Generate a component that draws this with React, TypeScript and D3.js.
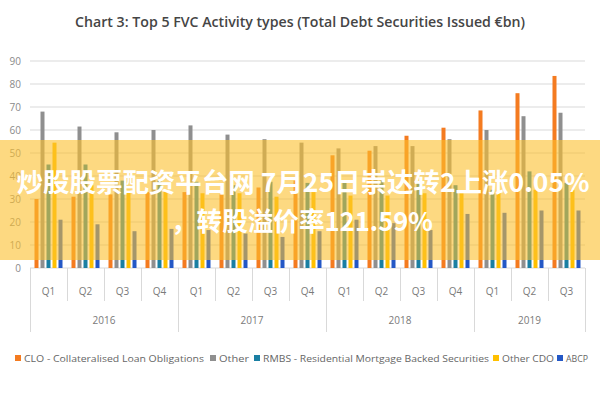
import React from 'react';
import * as d3 from 'd3';

const quarters = ['Q1','Q2','Q3','Q4','Q1','Q2','Q3','Q4','Q1','Q2','Q3','Q4','Q1','Q2','Q3'];
const years = ['2016','2017','2018','2019'];
const yearQuarterCounts = [4, 4, 4, 3];
const seriesNames = [
  'CLO - Collateralised Loan Obligations',
  'Other',
  'RMBS - Residential Mortgage Backed Securities',
  'Other CDO',
  'ABCP',
];
const clo = [30, 31, 32, 33, 33, 32, 35, 38, 49, 51, 57.5, 61, 68.5, 76, 83.5];
const other = [68, 61.5, 59, 60, 62, 58, 56, 54.5, 52, 53, 53, 56, 60, 66, 67.5];
const rmbs = [45, 45, 38, 38, 37.5, 36, 37.5, 37, 38, 38, 37.5, 36, 34, 42, 37];
const otherCdo = [54.5, 36, 34, 34, 32.5, 32.5, 31, 33, 31.5, 31.5, 32.5, 33, 33, 34, 34];
const abcp = [21, 19, 16, 17, 16.5, 15, 13.5, 16, 21, 19.5, 16.5, 23.5, 24, 25, 25];
const yTicks = [0, 10, 20, 30, 40, 50, 60, 70, 80, 90];
const seriesColors = ['#F47B20', '#8F8F8F', '#1A7FA3', '#FFC000', '#2458C6'];
const legendX = [15, 210, 254, 493, 557];
const legendW = [180, 30, 226, 52, 22];

const overlayLine1 = '炒股股票配资平台网 7月25日崇达转2上涨0.05%';
const overlayLine2 = '，转股溢价率121.59%';

export default function App() {
  const W = 600, H = 400;
  const left = 30, right = 585, top = 61, bottom = 268;
  const series = [clo, other, rmbs, otherCdo, abcp];
  const idx = d3.range(quarters.length);
  const x = d3.scaleBand<number>().domain(idx).range([left, right]);
  const inner = d3.scaleBand<number>().domain(d3.range(5)).range([-15, 15]).paddingInner(1 / 3).paddingOuter(1 / 6);
  const y = d3.scaleLinear().domain([0, 90]).range([bottom, top]);

  const yearStarts: number[] = [];
  let acc = 0;
  yearQuarterCounts.forEach((c) => { yearStarts.push(acc); acc += c; });

  const boundaryX = (i: number) => (i < quarters.length ? (x(i) as number) : right);

  return (
    <svg width={W} height={H} style={{ position: 'absolute', left: 0, top: 0, background: '#fff' }}
      fontFamily="'Open Sans', 'Liberation Sans', sans-serif">
      <rect x={0} y={0} width={W} height={H} fill="#fff" />
      <text x={300} y={27} textAnchor="middle" fontSize={15} fontWeight={600} fill="#454545"
        textLength={450} lengthAdjust="spacingAndGlyphs">
        Chart 3: Top 5 FVC Activity types (Total Debt Securities Issued €bn)
      </text>

      {yTicks.map((t) => (
        <g key={t}>
          <line x1={left} x2={right} y1={y(t)} y2={y(t)} stroke="#d9d9d9" strokeWidth={1.2} />
          <text x={21} y={y(t) + 3.5} textAnchor="end" fontSize={10} fill="#8a8a8a">{t}</text>
        </g>
      ))}

      {series.map((vals, k) => (
        <g key={k}>
          {vals.map((v, i) => {
            const cx = (x(i) as number) + x.bandwidth() / 2 + (inner(k) as number);
            return <rect key={i} x={cx} y={y(v)} width={inner.bandwidth()} height={y(0) - y(v)} fill={seriesColors[k]} />;
          })}
        </g>
      ))}

      {d3.range(quarters.length + 1).map((i) => {
        const isYear = yearStarts.includes(i) || i === quarters.length;
        const bx = Math.round(boundaryX(i)) + 0.5;
        return <line key={i} x1={bx} x2={bx} y1={bottom} y2={isYear ? 332 : 301} stroke="#d9d9d9" strokeWidth={1} />;
      })}
      {quarters.map((q, i) => (
        <text key={i} x={(x(i) as number) + x.bandwidth() / 2} y={295} textAnchor="middle" fontSize={10} fill="#7a7a7a">{q}</text>
      ))}
      {years.map((yr, j) => {
        const s = yearStarts[j];
        const e = s + yearQuarterCounts[j];
        const cx = (boundaryX(s) + boundaryX(e)) / 2;
        return <text key={yr} x={cx} y={324} textAnchor="middle" fontSize={10} fill="#7a7a7a">{yr}</text>;
      })}

      {seriesNames.map((n, k) => (
        <g key={n}>
          <rect x={legendX[k]} y={355} width={6} height={6} fill={seriesColors[k]} />
          <text x={legendX[k] + 9} y={362} fontSize={9.5} fill="#666" textLength={legendW[k]} lengthAdjust="spacingAndGlyphs">{n}</text>
        </g>
      ))}

      <rect x={0} y={140} width={W} height={120} fill="#FBC02D" opacity={0.6} />
      <g fontFamily="'Noto Sans CJK SC', sans-serif" fontWeight={700} fontSize={26} fill="#fff">
        <text x={303} y={192} textAnchor="middle" textLength={573} lengthAdjust="spacingAndGlyphs">{overlayLine1}</text>
        <text x={302} y={231} textAnchor="middle" textLength={262} lengthAdjust="spacingAndGlyphs">{overlayLine2}</text>
      </g>
    </svg>
  );
}
